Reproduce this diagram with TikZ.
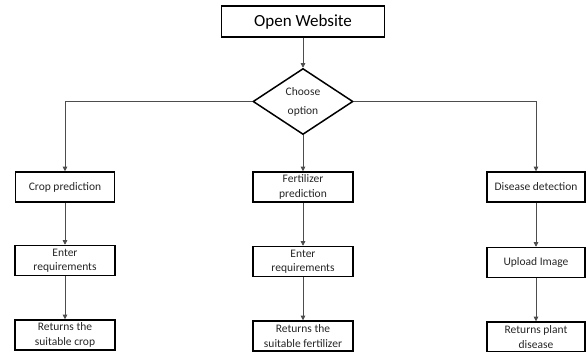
\documentclass[tikz,border=0pt]{standalone}
\usepackage{fontspec}
\setmainfont{Carlito}
\usepackage{xcolor}
\usetikzlibrary{arrows.meta,positioning,shapes.geometric}
\definecolor{ink}{HTML}{262626}
\definecolor{wire}{HTML}{4D4D4D}

\begin{document}
\begin{tikzpicture}[x=1pt, y=1pt,
  box/.style={draw=black, line width=1.5pt, align=center, inner sep=0pt,
              minimum width=100pt, minimum height=30pt, text=ink,
              font=\fontsize{11.5}{14.5}\selectfont},
  choice/.style={draw=black, line width=1.5pt, diamond, align=center,
                 inner sep=0pt, minimum width=100pt, minimum height=66pt,
                 text=ink, font=\fontsize{11.5}{19}\selectfont},
  arr/.style={-{Triangle[length=4.5pt, width=4.5pt]}, draw=wire, line width=0.7pt}
]
\useasboundingbox (0,0) rectangle (586,-352);
\node[box, minimum width=163pt, minimum height=31pt,
      font=\fontsize{17}{20}\selectfont, text=black] (open) at (303,-21.5) {Open Website};
\node[choice, below=30pt of open] (choose) {Choose\\option};

\node[box, minimum width=99pt] (crop) at (65,-187) {Crop prediction};
\node[box, below=42pt of crop] (cropin) {Enter\\requirements};
\node[box, below=43pt of cropin] (cropout) {Returns the\\suitable crop};

\node[box] (fert) at (303,-187) {Fertilizer\\prediction};
\node[box, below=43pt of fert] (fertin) {Enter\\requirements};
\node[box, below=43pt of fertin] (fertout) {Returns the\\suitable fertilizer};

\node[box, minimum width=98pt] (dis) at (536,-187) {Disease detection};
\node[box, minimum width=98pt, below=44pt of dis] (upload) {Upload Image};
\node[box, minimum width=98pt, below=43pt of upload] (disout) {Returns plant\\disease};

\draw[arr] (open) -- (choose);
\draw[arr] (choose.west) -| (crop.north);
\draw[arr] (choose) -- (fert);
\draw[arr] (choose.east) -| (dis.north);
\draw[arr] (crop) -- (cropin);
\draw[arr] (cropin) -- (cropout);
\draw[arr] (fert) -- (fertin);
\draw[arr] (fertin) -- (fertout);
\draw[arr] (dis) -- (upload);
\draw[arr] (upload) -- (disout);
\end{tikzpicture}
\end{document}
